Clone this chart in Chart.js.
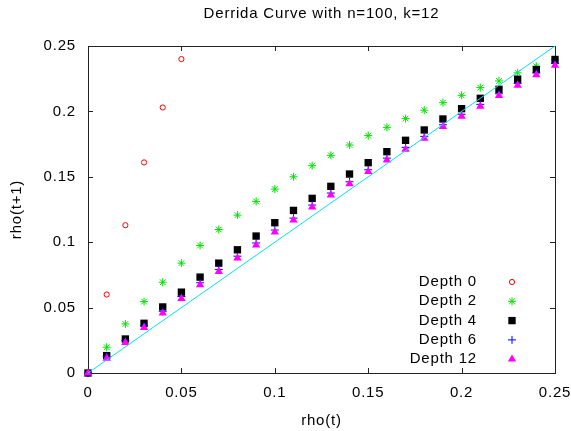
<!DOCTYPE html>
<html>
<head>
<meta charset="utf-8">
<script src="https://cdn.jsdelivr.net/npm/chart.js@4.4.1/dist/chart.umd.min.js"></script>
<style>
    html, body { margin: 0; padding: 0; background: #fff; }
    #wrap { width: 571px; height: 431px; }
</style>
</head>
<body>
<div id="wrap"><canvas id="chartDerrida"></canvas></div>
<script>
let rho = [0, 0.01, 0.02, 0.03, 0.04, 0.05, 0.06, 0.07, 0.08, 0.09, 0.10, 0.11, 0.12,
    0.13, 0.14, 0.15, 0.16, 0.17, 0.18, 0.19, 0.20, 0.21, 0.22, 0.23, 0.24, 0.25];

let depth0 = [0, 0.060, 0.113, 0.161, 0.203, 0.240];
let depth2 = [0, 0.0197, 0.0375, 0.0546, 0.0694, 0.084, 0.0975, 0.1097, 0.1207, 0.1312, 0.1406,
    0.150, 0.1585, 0.1664, 0.1743, 0.1815, 0.1878, 0.1945, 0.2009, 0.2067, 0.2123,
    0.2182, 0.2233, 0.2295, 0.2345, 0.2395];
let depth4 = [0, 0.0133, 0.026, 0.038, 0.0505, 0.0618, 0.0733, 0.084, 0.0942, 0.1047, 0.1149,
    0.1243, 0.1335, 0.1427, 0.1521, 0.1608, 0.1692, 0.1779, 0.1858, 0.1942, 0.2021,
    0.21, 0.2169, 0.2246, 0.232, 0.2397];
let depth6 = [0, 0.0127, 0.0247, 0.0362, 0.0472, 0.0585, 0.069, 0.0792, 0.0893, 0.0994, 0.1093,
    0.1184, 0.1284, 0.1376, 0.1462, 0.1554, 0.1643, 0.1725, 0.1809, 0.1898, 0.1978,
    0.2054, 0.2135, 0.2214, 0.2294, 0.2366];
let depth12 = [0, 0.0112, 0.0232, 0.0347, 0.0457, 0.0569, 0.0674, 0.0776, 0.0878, 0.0978, 0.1077,
    0.1169, 0.1269, 0.1361, 0.1447, 0.1539, 0.1628, 0.171, 0.1794, 0.1884, 0.1963,
    0.2039, 0.2121, 0.22, 0.228, 0.2353];

let diagX = [0, 0.25];
let diagY = [0, 0.25];

let seriesLabels = ['Depth 0', 'Depth 2', 'Depth 4', 'Depth 6', 'Depth 12'];
let tickValues = [0, 0.05, 0.1, 0.15, 0.2, 0.25];

let FONT = 'Liberation Sans, Arial, sans-serif';

function toPoints(xs, ys) {
    let pts = [];
    for (let i = 0; i < ys.length; i++) {
        pts.push({ x: xs[i], y: ys[i] });
    }
    return pts;
}

function fmt(v) {
    return String(+Number(v).toFixed(2));
}

// marker styles, same for plot and key
let markers = [
    { pointStyle: 'circle', radius: 2.6, borderWidth: 1, borderColor: '#ff0000', backgroundColor: '#ffffff' },
    { pointStyle: 'star', radius: 4, borderWidth: 1, borderColor: '#00e000', backgroundColor: '#00e000' },
    { pointStyle: 'rect', radius: 5.2, borderWidth: 0, borderColor: '#000000', backgroundColor: '#000000' },
    { pointStyle: 'cross', radius: 4, borderWidth: 1, borderColor: '#0000ff', backgroundColor: '#0000ff' },
    { pointStyle: 'triangle', radius: 4.8, borderWidth: 0, borderColor: '#ff00ff', backgroundColor: '#ff00ff' }
];

let seriesData = [depth0, depth2, depth4, depth6, depth12];

let datasets = [];
for (let i = 0; i < seriesData.length; i++) {
    let m = markers[i];
    datasets.push({
        label: seriesLabels[i],
        data: toPoints(rho, seriesData[i]),
        showLine: false,
        pointStyle: m.pointStyle,
        pointRadius: m.radius,
        pointHoverRadius: m.radius,
        pointBorderWidth: m.borderWidth,
        borderColor: m.borderColor,
        backgroundColor: m.backgroundColor,
        clip: false,
        order: 10 - i
    });
}

datasets.push({
    label: 'y=x',
    data: toPoints(diagX, diagY),
    showLine: true,
    borderColor: '#00e4f0',
    borderWidth: 1,
    pointRadius: 0,
    clip: false,
    order: 0
});

// gnuplot style frame with inward ticks on all four sides
let framePlugin = {
    id: 'frame',
    beforeDraw: function (chart) {
        chart.ctx.letterSpacing = '0.8px';
    },
    beforeDatasetsDraw: function (chart) {
        let ctx = chart.ctx;
        let a = chart.chartArea;
        let xs = chart.scales.x;
        let ys = chart.scales.y;
        ctx.save();
        ctx.strokeStyle = '#222';
        ctx.lineWidth = 1;
        ctx.strokeRect(Math.round(a.left) + 0.5, Math.round(a.top) + 0.5,
            Math.round(a.right - a.left), Math.round(a.bottom - a.top));
        ctx.beginPath();
        tickValues.forEach(function (t) {
            let px = Math.round(xs.getPixelForValue(t)) + 0.5;
            ctx.moveTo(px, a.bottom);
            ctx.lineTo(px, a.bottom - 5);
            ctx.moveTo(px, a.top);
            ctx.lineTo(px, a.top + 5);
            let py = Math.round(ys.getPixelForValue(t)) + 0.5;
            ctx.moveTo(a.left, py);
            ctx.lineTo(a.left + 5, py);
            ctx.moveTo(a.right, py);
            ctx.lineTo(a.right - 5, py);
        });
        ctx.stroke();
        ctx.restore();
    },
    afterDatasetsDraw: function (chart) {
        let ctx = chart.ctx;
        let a = chart.chartArea;
        ctx.save();
        ctx.font = '15px ' + FONT;
        ctx.fillStyle = '#000';
        ctx.textAlign = 'right';
        ctx.textBaseline = 'middle';
        for (let i = 0; i < seriesLabels.length; i++) {
            let y = a.bottom - 91 + i * 19.3;
            ctx.fillText(seriesLabels[i], a.right - 78, y);
            let m = markers[i];
            ctx.fillStyle = m.backgroundColor;
            ctx.strokeStyle = m.borderColor;
            ctx.lineWidth = m.borderWidth || 1;
            Chart.helpers.drawPoint(ctx, {
                pointStyle: m.pointStyle,
                radius: m.radius,
                rotation: 0,
                borderWidth: m.borderWidth
            }, a.right - 43, y);
            ctx.fillStyle = '#000';
        }
        ctx.restore();
    }
};

let chartDerrida = new Chart(document.getElementById('chartDerrida'), {
    type: 'scatter',
    data: { datasets: datasets },
    plugins: [framePlugin],
    options: {
        responsive: true,
        maintainAspectRatio: false,
        animation: false,
        events: [],
        layout: { padding: { top: 0, right: 16, left: 0, bottom: 0 } },
        plugins: {
            legend: { display: false },
            tooltip: { enabled: false },
            title: {
                display: true,
                text: 'Derrida Curve with n=100, k=12',
                fullSize: false,
                color: '#000',
                font: { family: FONT, size: 15, weight: 'normal' },
                padding: { top: 5, bottom: 23 }
            }
        },
        scales: {
            x: {
                type: 'linear',
                min: 0,
                max: 0.25,
                border: { display: false },
                grid: { display: false, drawTicks: false },
                ticks: {
                    stepSize: 0.05,
                    padding: 11,
                    maxRotation: 0,
                    color: '#000',
                    font: { family: FONT, size: 15 },
                    callback: fmt
                },
                title: {
                    display: true,
                    text: 'rho(t)',
                    color: '#000',
                    font: { family: FONT, size: 15 },
                    padding: { top: 0, bottom: 1 }
                },
                afterFit: function (scale) {
                    scale.height = 58;
                    scale.paddingLeft = 0;
                    scale.paddingRight = 0;
                }
            },
            y: {
                type: 'linear',
                min: 0,
                max: 0.25,
                border: { display: false },
                grid: { display: false, drawTicks: false },
                ticks: {
                    stepSize: 0.05,
                    padding: 12,
                    color: '#000',
                    font: { family: FONT, size: 15 },
                    callback: fmt
                },
                title: {
                    display: true,
                    text: 'rho(t+1)',
                    color: '#000',
                    font: { family: FONT, size: 15 },
                    padding: { top: 8, bottom: 0 }
                },
                afterFit: function (scale) {
                    scale.width = 88;
                    scale.paddingTop = 0;
                    scale.paddingBottom = 0;
                }
            }
        }
    }
});
</script>
</body>
</html>
